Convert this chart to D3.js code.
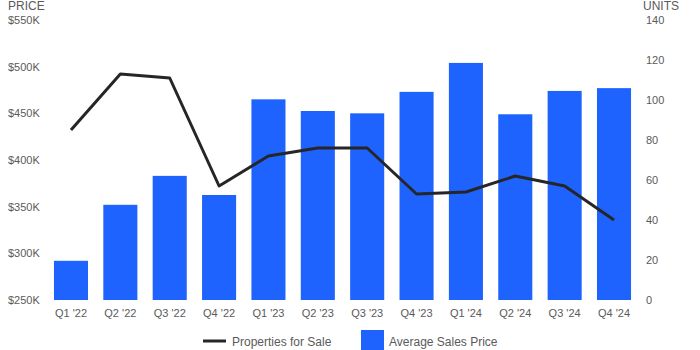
<!DOCTYPE html>
<html>
<head>
<meta charset="utf-8">
<script src="https://cdn.jsdelivr.net/npm/d3@7"></script>
<style>
  html, body { margin: 0; padding: 0; background: #fff; }
  svg { display: block; font-family: "Liberation Sans", Arial, sans-serif; }
</style>
</head>
<body>
<svg id="chart" width="700" height="350"></svg>
<script>
// Quarterly housing figures
const quarters = ["Q1 '22", "Q2 '22", "Q3 '22", "Q4 '22", "Q1 '23", "Q2 '23", "Q3 '23", "Q4 '23", "Q1 '24", "Q2 '24", "Q3 '24", "Q4 '24"];
const avgSalesPrice = [292000, 352000, 383000, 362500, 465000, 452500, 450000, 473000, 504000, 449000, 474000, 477000];
const propertiesForSale = [85, 113, 111, 57, 72, 76, 76, 53, 54, 62, 57, 40];
const priceTicks = [250000, 300000, 350000, 400000, 450000, 500000, 550000];
const unitTicks = [0, 20, 40, 60, 80, 100, 120, 140];

const barColor = "#1f63ff";
const lineColor = "#262626";
const textColor = "#5a5a5a";

const svg = d3.select("#chart");
const plotTop = 20, plotBottom = 300, plotLeft = 46.3, plotRight = 638.7;

const x = d3.scaleBand().domain(quarters).range([plotLeft, plotRight]).paddingInner(0.31).paddingOuter(0.155);
const yPrice = d3.scaleLinear().domain([250000, 550000]).range([plotBottom, plotTop]);
const yUnits = d3.scaleLinear().domain([0, 140]).range([plotBottom, plotTop]);

// Bars: average sales price
svg.append("g").selectAll("rect")
  .data(quarters)
  .join("rect")
  .attr("x", d => x(d))
  .attr("width", x.bandwidth())
  .attr("y", (d, i) => yPrice(avgSalesPrice[i]))
  .attr("height", (d, i) => plotBottom - yPrice(avgSalesPrice[i]))
  .attr("fill", barColor);

// Line: properties for sale
const line = d3.line()
  .x((d, i) => x(quarters[i]) + x.bandwidth() / 2)
  .y(d => yUnits(d));
svg.append("path")
  .datum(propertiesForSale)
  .attr("d", line)
  .attr("fill", "none")
  .attr("stroke", lineColor)
  .attr("stroke-width", 3)
  .attr("stroke-linejoin", "round");

const fontFamily = "'Liberation Sans', Arial, sans-serif";

// Left axis (price)
const fmtPrice = v => "$" + (v / 1000) + "K";
const leftAxis = svg.append("g").attr("transform", "translate(8,0)")
  .call(d3.axisLeft(yPrice).tickValues(priceTicks).tickFormat(fmtPrice).tickSize(0).tickPadding(0));
leftAxis.select(".domain").remove();
leftAxis.selectAll("text")
  .attr("text-anchor", "start")
  .attr("x", 0)
  .attr("fill", textColor)
  .style("font-size", "11px")
  .style("font-family", fontFamily);

// Right axis (units)
const rightAxis = svg.append("g").attr("transform", "translate(646,0)")
  .call(d3.axisRight(yUnits).tickValues(unitTicks).tickSize(0).tickPadding(0));
rightAxis.select(".domain").remove();
rightAxis.selectAll("text")
  .attr("fill", textColor)
  .style("font-size", "11px")
  .style("font-family", fontFamily);

// Bottom axis (quarters)
const bottomAxis = svg.append("g").attr("transform", `translate(0,${plotBottom})`)
  .call(d3.axisBottom(x).tickSize(0).tickPadding(9));
bottomAxis.select(".domain").remove();
bottomAxis.selectAll("text")
  .attr("fill", textColor)
  .style("font-size", "11px")
  .style("font-family", fontFamily);

// Axis titles
svg.append("text").attr("x", 8).attr("y", 10).text("PRICE")
  .attr("fill", textColor).style("font-size", "12px");
svg.append("text").attr("x", 643).attr("y", 10).text("UNITS")
  .attr("fill", textColor).style("font-size", "12px");

// Legend
const legend = svg.append("g");
legend.append("line")
  .attr("x1", 203).attr("x2", 226).attr("y1", 341).attr("y2", 341)
  .attr("stroke", lineColor).attr("stroke-width", 3);
legend.append("text").attr("x", 232).attr("y", 345.5).text("Properties for Sale")
  .attr("fill", textColor).style("font-size", "12px");
legend.append("rect")
  .attr("x", 361).attr("y", 330).attr("width", 23).attr("height", 22)
  .attr("fill", barColor);
legend.append("text").attr("x", 389).attr("y", 345.5).text("Average Sales Price")
  .attr("fill", textColor).style("font-size", "12px");
</script>
</body>
</html>
